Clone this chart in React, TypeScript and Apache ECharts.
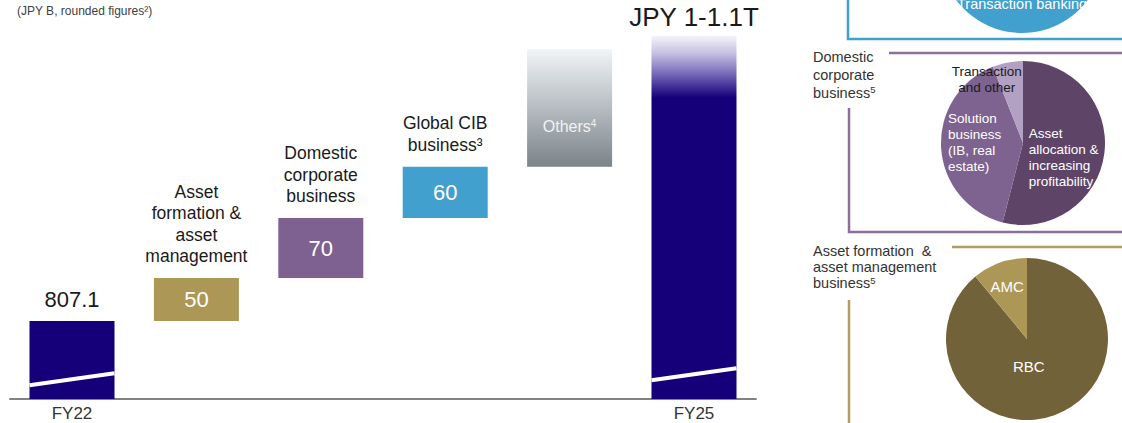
import React, { useEffect, useRef } from "react";
import * as echarts from "echarts";

// ---------- data ----------
const categories = [
  "FY22",
  "Asset formation & asset management",
  "Domestic corporate business",
  "Global CIB business",
  "Others",
  "FY25",
];
const startValue = 807.1; // FY22 (JPY B)
const increments = [50, 70, 60, 137]; // last: Others (estimated, no figure shown)
const endValue = 1140; // FY25 target, JPY 1-1.1T (estimated bar height)
const endLabel = "JPY 1-1.1T";
const incrementTitles = [
  "Asset\nformation &\nasset\nmanagement",
  "Domestic\ncorporate\nbusiness",
  "Global CIB\nbusiness³",
];
const othersLabel = "Others{sup|4}";
const breakLines = [
  [0, 732, 746],
  [5, 738, 752],
];

const cibNames = ["Transaction banking"];
const cibValues = [100];

const domesticNames = [
  "Asset allocation & increasing profitability",
  "Solution business (IB, real estate)",
  "Transaction and other",
];
const domesticValues = [54, 40, 6];
const domesticLabels = [
  "Asset\nallocation &\nincreasing\nprofitability",
  "Solution\nbusiness\n(IB, real\nestate)",
  "Transaction\nand other",
];

const assetNames = ["RBC", "AMC"];
const assetValues = [89, 11];

// ---------- styles ----------
const FONT = "'Liberation Sans', Arial, sans-serif";
const NAVY = "#16007a";
const barColors = ["#ad9757", "#7f6191", "#41a0cd"];
const BAR_WIDTH = 85;
const domesticColors = ["#5e4568", "#7e6290", "#b3a1c3"];
const assetColors = ["#72623a", "#ad9757"];
const domesticLabelShift = [
  { dx: -38, dy: 9, align: "left" },
  { dx: -31, dy: -3, align: "left" },
  { dx: -28, dy: -20, align: "center" },
];
const assetLabelShift = [
  { dx: -13, dy: -13 },
  { dx: -5, dy: -12 },
];

export default function App() {
  const ref = useRef<HTMLDivElement>(null);

  useEffect(() => {
    if (!ref.current) return;
    const chart = echarts.init(ref.current, undefined, { renderer: "svg" });

    // waterfall bases
    const bases: number[] = [0];
    let run = startValue;
    increments.forEach((v) => {
      bases.push(run);
      run += v;
    });
    bases.push(0);
    const values = [startValue, ...increments, endValue];

    const valueData = values.map((v, i) => {
      if (i === 0) {
        return {
          value: v,
          itemStyle: { color: NAVY },
          label: {
            show: true,
            position: "top",
            distance: 10,
            fontSize: 22,
            color: "#1a1a1a",
            formatter: "{c}",
          },
        };
      }
      if (i === values.length - 1) {
        return {
          value: v,
          itemStyle: {
            color: new echarts.graphic.LinearGradient(0, 0, 0, 1, [
              { offset: 0, color: "#f4f4fa" },
              { offset: 0.05, color: "#c4bfe2" },
              { offset: 0.11, color: "#6f61b3" },
              { offset: 0.17, color: NAVY },
              { offset: 1, color: NAVY },
            ]),
          },
          label: {
            show: true,
            position: "top",
            distance: 6,
            fontSize: 26,
            color: "#1a1a1a",
            formatter: endLabel,
          },
        };
      }
      if (i === 4) {
        return {
          value: v,
          itemStyle: {
            color: new echarts.graphic.LinearGradient(0, 0, 0, 1, [
              { offset: 0, color: "#f1f4f7" },
              { offset: 1, color: "#7b848a" },
            ]),
          },
          label: {
            show: true,
            position: ["50%", "66%"],
            align: "center",
            verticalAlign: "middle",
            fontSize: 16,
            lineHeight: 20,
            color: "#f2f2f2",
            formatter: othersLabel,
            rich: {
              sup: { fontSize: 10, lineHeight: 20, verticalAlign: "top", color: "#f2f2f2", padding: [2, 0, 0, 0] },
            },
          },
        };
      }
      return {
        value: v,
        itemStyle: { color: barColors[i - 1] },
        label: {
          show: true,
          position: "inside",
          fontSize: 22,
          color: "#ffffff",
          formatter: "{c}",
        },
      };
    });

    const titleData = incrementTitles.map((_, k) => [k + 1, bases[k + 1] + increments[k]]);

    const supRich = {
      sup: { fontSize: 9.5, verticalAlign: "top", color: "#333", fontFamily: FONT },
    };

    const option: any = {
      animation: false,
      textStyle: { fontFamily: FONT },
      title: [
        {
          text: "(JPY B, rounded figures²)",
          left: 12,
          top: 0,
          textStyle: { fontSize: 12, fontWeight: "normal", color: "#404040", fontFamily: FONT },
        },
        {
          text: "Domestic\ncorporate\nbusiness{sup|5}",
          left: 813,
          top: 48,
          padding: 0,
          textStyle: {
            fontSize: 14.5,
            lineHeight: 18,
            fontWeight: "normal",
            color: "#333",
            fontFamily: FONT,
            rich: supRich,
          },
        },
        {
          text: "Asset formation  &\nasset management\nbusiness{sup|5}",
          left: 813,
          top: 243,
          padding: 0,
          textStyle: {
            fontSize: 14.5,
            lineHeight: 16,
            fontWeight: "normal",
            color: "#333",
            fontFamily: FONT,
            rich: supRich,
          },
        },
      ],
      grid: { left: 9.8, right: 365.8, top: 10, bottom: 24, containLabel: false },
      xAxis: {
        type: "category",
        data: categories,
        axisLine: { show: true, lineStyle: { color: "#595959", width: 1.5 } },
        axisTick: { show: false },
        axisLabel: {
          fontSize: 17,
          color: "#333",
          margin: 6,
          interval: 0,
          formatter: (v: string) => (v === "FY22" || v === "FY25" ? v : ""),
        },
      },
      yAxis: {
        type: "value",
        min: 716,
        max: 1170,
        startValue: 716,
        show: false,
        splitLine: { show: false },
      },
      graphic: [
        {
          type: "polyline",
          shape: { points: [[848, -5], [848, 39], [1130, 39]] },
          style: { stroke: "#41a0cd", lineWidth: 2.5, fill: "none" },
          silent: true,
        },
        {
          type: "line",
          shape: { x1: 889, y1: 53, x2: 1130, y2: 53 },
          style: { stroke: "#8b6f9d", lineWidth: 2.5 },
          silent: true,
        },
        {
          type: "polyline",
          shape: { points: [[849, 108], [849, 232], [1130, 232]] },
          style: { stroke: "#8b6f9d", lineWidth: 2.5, fill: "none" },
          silent: true,
        },
        {
          type: "line",
          shape: { x1: 952, y1: 247, x2: 1130, y2: 247 },
          style: { stroke: "#b29c5e", lineWidth: 2.5 },
          silent: true,
        },
        {
          type: "line",
          shape: { x1: 849, y1: 300, x2: 849, y2: 430 },
          style: { stroke: "#b29c5e", lineWidth: 2.5 },
          silent: true,
        },
      ],
      series: [
        {
          type: "bar",
          stack: "wf",
          barWidth: BAR_WIDTH,
          silent: true,
          itemStyle: { color: "transparent" },
          data: bases,
        },
        {
          type: "bar",
          stack: "wf",
          barWidth: BAR_WIDTH,
          silent: true,
          data: valueData,
        },
        {
          type: "custom",
          silent: true,
          z: 5,
          data: breakLines,
          renderItem: (params: any, api: any) => {
            const p1 = api.coord([api.value(0), api.value(1)]);
            const p2 = api.coord([api.value(0), api.value(2)]);
            const half = BAR_WIDTH / 2;
            return {
              type: "line",
              shape: { x1: p1[0] - half, y1: p1[1], x2: p2[0] + half, y2: p2[1] },
              style: { stroke: "#ffffff", lineWidth: 4 },
            };
          },
        },
        {
          type: "custom",
          silent: true,
          z: 5,
          data: titleData,
          renderItem: (params: any, api: any) => {
            const p = api.coord([api.value(0), api.value(1)]);
            return {
              type: "text",
              x: p[0],
              y: p[1] - 11,
              style: {
                text: incrementTitles[params.dataIndex],
                fill: "#1a1a1a",
                fontSize: 17.5,
                fontFamily: FONT,
                lineHeight: 21.5,
                align: "center",
                verticalAlign: "bottom",
              },
            };
          },
        },
        {
          type: "pie",
          silent: true,
          center: [1022, -49],
          radius: 82,
          startAngle: 90,
          data: cibNames.map((n, i) => ({ name: n, value: cibValues[i], itemStyle: { color: "#41a0cd" } })),
          label: { show: true, position: "inside", color: "#ffffff", fontSize: 14.5 },
          labelLine: { show: false },
          labelLayout: () => ({ dy: 9 }),
        },
        {
          type: "pie",
          silent: true,
          center: [1023, 143],
          radius: 82,
          startAngle: 90,
          data: domesticNames.map((n, i) => ({
            name: n,
            value: domesticValues[i],
            itemStyle: { color: domesticColors[i] },
            label: { color: i === 2 ? "#1a1a1a" : "#ffffff" },
          })),
          label: {
            show: true,
            position: "inside",
            fontSize: 13.5,
            lineHeight: 16,
            formatter: (p: any) => domesticLabels[p.dataIndex],
          },
          labelLine: { show: false },
          labelLayout: (p: any) => domesticLabelShift[p.dataIndex],
        },
        {
          type: "pie",
          silent: true,
          center: [1027, 339],
          radius: 81,
          startAngle: 90,
          data: assetNames.map((n, i) => ({
            name: n,
            value: assetValues[i],
            itemStyle: { color: assetColors[i] },
          })),
          label: { show: true, position: "inside", color: "#ffffff", fontSize: 15 },
          labelLine: { show: false },
          labelLayout: (p: any) => assetLabelShift[p.dataIndex],
        },
      ],
    };

    chart.setOption(option);
    return () => chart.dispose();
  }, []);

  return (
    <div
      ref={ref}
      style={{ position: "absolute", left: 0, top: 0, width: 1122, height: 423, background: "#ffffff" }}
    />
  );
}
